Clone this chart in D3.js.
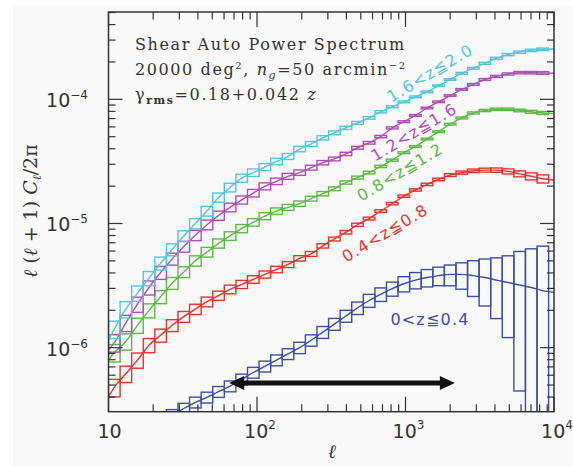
<!DOCTYPE html>
<html>
<head>
<meta charset="utf-8">
<script src="https://cdn.jsdelivr.net/npm/d3@7"></script>
<style>
  body { margin: 0; background: #fff; }
  svg { display: block; }
</style>
</head>
<body>
<svg id="chart" width="573" height="466"></svg>
<script>
// ---- data -------------------------------------------------------------
// multipole bin edges (38 log-spaced bins)
const binEdges = [10, 11.97, 14.32, 17.14, 20.51, 24.55, 29.37, 35.15, 42.07, 50.34,
  60.25, 72.10, 86.28, 103.3, 123.6, 147.9, 177.0, 211.8, 253.4, 303.3,
  363.0, 434.4, 519.8, 622.1, 744.5, 890.9, 1066, 1276, 1527, 1827,
  2187, 2617, 3131, 3747, 4485, 5367, 6422, 7686, 9197];

// band power l(l+1)C_l/2pi at each bin centre
const powerZ4 = [1.585e-7, 1.778e-7, 1.995e-7, 2.291e-7, 2.57e-7, 2.884e-7, 3.236e-7, 3.631e-7, 3.981e-7, 4.42e-7,
  4.9e-7, 5.56e-7, 6.31e-7, 7.08e-7, 7.94e-7, 8.91e-7, 1.0e-6, 1.148e-6, 1.334e-6, 1.549e-6,
  1.80e-6, 2.089e-6, 2.399e-6, 2.692e-6, 2.985e-6, 3.27e-6, 3.5e-6, 3.67e-6, 3.8e-6, 3.89e-6,
  3.89e-6, 3.8e-6, 3.67e-6, 3.5e-6, 3.35e-6, 3.2e-6, 3.05e-6, 2.88e-6];
const powerZ8 = [4.786e-7, 6.166e-7, 7.943e-7, 1.047e-6, 1.259e-6, 1.514e-6, 1.778e-6, 2.042e-6, 2.344e-6, 2.63e-6,
  2.951e-6, 3.236e-6, 3.548e-6, 3.89e-6, 4.266e-6, 4.677e-6, 5.248e-6, 5.69e-6, 6.607e-6, 7.5e-6,
  8.511e-6, 9.772e-6, 1.096e-5, 1.259e-5, 1.445e-5, 1.66e-5, 1.862e-5, 2.065e-5, 2.265e-5, 2.455e-5,
  2.57e-5, 2.66e-5, 2.692e-5, 2.692e-5, 2.63e-5, 2.512e-5, 2.399e-5, 2.291e-5];
const powerZ12 = [9.12e-7, 1.122e-6, 1.514e-6, 1.995e-6, 2.57e-6, 3.311e-6, 4.074e-6, 5.012e-6, 5.888e-6, 6.918e-6,
  7.943e-6, 9.12e-6, 1.023e-5, 1.148e-5, 1.259e-5, 1.349e-5, 1.445e-5, 1.585e-5, 1.738e-5, 1.905e-5,
  2.138e-5, 2.344e-5, 2.57e-5, 2.884e-5, 3.236e-5, 3.715e-5, 4.169e-5, 4.786e-5, 5.495e-5, 6.31e-5,
  7.079e-5, 7.762e-5, 8.128e-5, 8.318e-5, 8.318e-5, 8.128e-5, 7.943e-5, 7.762e-5];
const powerZ16 = [1.096e-6, 1.585e-6, 2.239e-6, 3.05e-6, 4.03e-6, 5.19e-6, 6.53e-6, 8.04e-6, 9.77e-6, 1.16e-5,
  1.349e-5, 1.549e-5, 1.758e-5, 1.995e-5, 2.188e-5, 2.399e-5, 2.57e-5, 2.818e-5, 3.09e-5, 3.311e-5,
  3.631e-5, 4.074e-5, 4.467e-5, 5.012e-5, 5.888e-5, 6.607e-5, 7.413e-5, 8.511e-5, 9.55e-5, 1.072e-4,
  1.202e-4, 1.318e-4, 1.445e-4, 1.53e-4, 1.60e-4, 1.64e-4, 1.64e-4, 1.63e-4];
const powerZ20 = [1.41e-6, 2.04e-6, 2.75e-6, 3.63e-6, 4.79e-6, 6.17e-6, 7.94e-6, 1.0e-5, 1.26e-5, 1.62e-5,
  1.95e-5, 2.32e-5, 2.57e-5, 2.85e-5, 3.16e-5, 3.47e-5, 3.98e-5, 4.37e-5, 4.90e-5, 5.37e-5,
  5.89e-5, 6.46e-5, 7.08e-5, 7.94e-5, 8.71e-5, 9.55e-5, 1.047e-4, 1.148e-4, 1.288e-4, 1.445e-4,
  1.622e-4, 1.778e-4, 1.95e-4, 2.138e-4, 2.291e-4, 2.399e-4, 2.48e-4, 2.53e-4];

// model values at the ends of the multipole range (l = 10 and l = 10^4)
const endsZ4 = [1.48e-7, 2.79e-6];
const endsZ8 = [4.03e-7, 2.24e-5];
const endsZ12 = [7.94e-7, 7.71e-5];
const endsZ16 = [9.55e-7, 1.62e-4];
const endsZ20 = [1.15e-6, 2.54e-4];

// fractional 1-sigma error of each band power
const errZ4 = [0.12, 0.11, 0.11, 0.1, 0.1, 0.1, 0.1, 0.1, 0.1, 0.1,
  0.1, 0.1, 0.1, 0.1, 0.1, 0.1, 0.105, 0.105, 0.11, 0.11,
  0.11, 0.115, 0.12, 0.125, 0.13, 0.14, 0.15, 0.16, 0.17, 0.19,
  0.24, 0.32, 0.41, 0.51, 0.64, 0.86, 1.05, 1.28];
const errZ8 = [0.16, 0.15, 0.14, 0.13, 0.12, 0.11, 0.10, 0.095, 0.09, 0.085,
  0.08, 0.075, 0.07, 0.065, 0.06, 0.055, 0.05, 0.045, 0.04, 0.035,
  0.032, 0.029, 0.026, 0.024, 0.022, 0.021, 0.021, 0.022, 0.024, 0.026,
  0.029, 0.032, 0.036, 0.04, 0.047, 0.055, 0.065, 0.075];
const errZ12 = [0.16, 0.15, 0.14, 0.13, 0.12, 0.11, 0.10, 0.095, 0.09, 0.085,
  0.08, 0.075, 0.07, 0.065, 0.06, 0.055, 0.05, 0.045, 0.04, 0.035,
  0.03, 0.027, 0.024, 0.021, 0.019, 0.017, 0.016, 0.016, 0.016, 0.017,
  0.018, 0.019, 0.02, 0.021, 0.022, 0.024, 0.026, 0.028];
const errZ16 = [0.16, 0.15, 0.14, 0.13, 0.12, 0.11, 0.10, 0.095, 0.09, 0.085,
  0.08, 0.075, 0.07, 0.065, 0.06, 0.055, 0.05, 0.045, 0.04, 0.035,
  0.03, 0.027, 0.024, 0.021, 0.019, 0.017, 0.016, 0.015, 0.015, 0.015,
  0.016, 0.017, 0.018, 0.019, 0.02, 0.021, 0.022, 0.024];
const errZ20 = [0.16, 0.15, 0.14, 0.13, 0.12, 0.11, 0.10, 0.095, 0.09, 0.085,
  0.08, 0.075, 0.07, 0.065, 0.06, 0.055, 0.05, 0.045, 0.04, 0.035,
  0.03, 0.027, 0.024, 0.021, 0.019, 0.017, 0.016, 0.015, 0.015, 0.015,
  0.016, 0.017, 0.018, 0.019, 0.02, 0.021, 0.022, 0.023];

const seriesNames = ["0<z≦0.4", "0.4<z≦0.8", "0.8<z≦1.2", "1.2<z≦1.6", "1.6<z≦2.0"];
const seriesColors = ["#3b4ea8", "#e8332a", "#5cb946", "#b24db4", "#52c6da"];

const xTickLabels = [["10", ""], ["10", "2"], ["10", "3"], ["10", "4"]];
const yTickLabels = [["10", "−4"], ["10", "−5"], ["10", "−6"]];
const xTickValues = [10, 100, 1000, 10000];
const yTickValues = [1e-4, 1e-5, 1e-6];

// l range marked by the double arrow, and its height on the plot
const arrowRange = [65, 2150];
const arrowLevel = 5.2e-7;

// ---- layout -----------------------------------------------------------
const W = 573, H = 466;
const P = { left: 108.5, right: 554, top: 12, bottom: 411.7 };

const svg = d3.select("#chart");
svg.append("rect").attr("width", W).attr("height", H).attr("fill", "#ffffff");
svg.append("rect").attr("x", 13).attr("y", 5).attr("width", W - 13).attr("height", H - 5)
  .attr("fill", "#f8f8f8");

const x = d3.scaleLog().domain([10, 1e4]).range([P.left, P.right]);
const y = d3.scaleLog().domain([3.05e-7, 5.05e-4]).range([P.bottom, P.top]);

svg.append("clipPath").attr("id", "plotClip")
  .append("rect").attr("x", P.left).attr("y", P.top)
  .attr("width", P.right - P.left).attr("height", P.bottom - P.top);

const series = [
  { power: powerZ4, ends: endsZ4, err: errZ4 },
  { power: powerZ8, ends: endsZ8, err: errZ8 },
  { power: powerZ12, ends: endsZ12, err: errZ12 },
  { power: powerZ16, ends: endsZ16, err: errZ16 },
  { power: powerZ20, ends: endsZ20, err: errZ20 },
].map((s, k) => ({ ...s, name: seriesNames[k], color: seriesColors[k] }));

const centres = binEdges.slice(0, -1).map((lo, i) => Math.sqrt(lo * binEdges[i + 1]));

const plotG = svg.append("g").attr("clip-path", "url(#plotClip)");
const line = d3.line().x(d => x(d[0])).y(d => y(d[1])).curve(d3.curveMonotoneX);

series.forEach(s => {
  const g = plotG.append("g");
  // error boxes: bin width by +-1 sigma
  g.selectAll("rect").data(s.power).join("rect")
    .attr("x", (v, i) => x(binEdges[i]))
    .attr("width", (v, i) => x(binEdges[i + 1]) - x(binEdges[i]))
    .attr("y", (v, i) => y(v * (1 + s.err[i])))
    .attr("height", (v, i) => {
      const lo = v * (1 - s.err[i]);
      const yb = lo > 0 ? y(lo) : P.bottom + 20;
      return yb - y(v * (1 + s.err[i]));
    })
    .attr("fill", "none")
    .attr("stroke", s.color)
    .attr("stroke-width", 1.4);
  // model curve
  const pts = [[10, s.ends[0]], ...centres.map((c, i) => [c, s.power[i]]), [1e4, s.ends[1]]];
  g.append("path").attr("d", line(pts))
    .attr("fill", "none").attr("stroke", s.color).attr("stroke-width", 1.4);
});

// double-headed arrow
(function () {
  const x0 = x(arrowRange[0]), x1 = x(arrowRange[1]), ya = y(arrowLevel);
  const head = 15, half = 7;
  svg.append("line").attr("x1", x0 + head - 2).attr("x2", x1 - head + 2)
    .attr("y1", ya).attr("y2", ya).attr("stroke", "#111").attr("stroke-width", 5);
  svg.append("path")
    .attr("d", `M${x0},${ya} L${x0 + head},${ya - half} L${x0 + head},${ya + half} Z`)
    .attr("fill", "#111");
  svg.append("path")
    .attr("d", `M${x1},${ya} L${x1 - head},${ya - half} L${x1 - head},${ya + half} Z`)
    .attr("fill", "#111");
})();

// frame and ticks
const axisColor = "#333";
svg.append("rect").attr("x", P.left).attr("y", P.top)
  .attr("width", P.right - P.left).attr("height", P.bottom - P.top)
  .attr("fill", "none").attr("stroke", axisColor).attr("stroke-width", 1.5);

const isMajor = v => Math.abs(Math.log10(v) - Math.round(Math.log10(v))) < 1e-6;
const tg = svg.append("g").attr("stroke", axisColor).attr("stroke-width", 1.2);
x.ticks().forEach(v => {
  const len = isMajor(v) ? 15 : 7.5;
  const xp = x(v);
  tg.append("line").attr("x1", xp).attr("x2", xp).attr("y1", P.bottom).attr("y2", P.bottom - len);
  tg.append("line").attr("x1", xp).attr("x2", xp).attr("y1", P.top).attr("y2", P.top + len);
});
y.ticks().forEach(v => {
  const len = isMajor(v) ? 14 : 7;
  const yp = y(v);
  tg.append("line").attr("x1", P.left).attr("x2", P.left + len).attr("y1", yp).attr("y2", yp);
  tg.append("line").attr("x1", P.right).attr("x2", P.right - len).attr("y1", yp).attr("y2", yp);
});

// tick labels
const tickFont = "'DejaVu Sans', sans-serif";
xTickValues.forEach((v, i) => {
  const t = svg.append("text").attr("x", x(v) + (i === 0 ? 1 : 3)).attr("y", 438)
    .attr("text-anchor", "middle").attr("font-family", tickFont).attr("font-size", 19)
    .attr("fill", "#333");
  t.append("tspan").text(xTickLabels[i][0]);
  if (xTickLabels[i][1]) t.append("tspan").attr("dy", -9).attr("font-size", 12).text(xTickLabels[i][1]);
});
yTickValues.forEach((v, i) => {
  const t = svg.append("text").attr("x", 88).attr("y", y(v) + 8)
    .attr("text-anchor", "end").attr("font-family", tickFont).attr("font-size", 19)
    .attr("fill", "#333");
  t.append("tspan").text(yTickLabels[i][0]);
  t.append("tspan").attr("dy", -8).attr("font-size", 12).text(yTickLabels[i][1]);
});

// axis titles
const serif = "'DejaVu Serif', serif";
svg.append("text").attr("x", 332).attr("y", 458).attr("text-anchor", "middle")
  .attr("font-family", serif).attr("font-style", "italic").attr("font-size", 19)
  .attr("fill", "#333").text("ℓ");

const yl = svg.append("text").attr("transform", "translate(37,211) rotate(-90)")
  .attr("text-anchor", "middle").attr("font-family", serif).attr("font-size", 19)
  .attr("fill", "#333");
yl.append("tspan").attr("font-style", "italic").text("ℓ");
yl.append("tspan").text(" (");
yl.append("tspan").attr("font-style", "italic").text("ℓ");
yl.append("tspan").text(" + 1) ");
yl.append("tspan").attr("font-style", "italic").text("C");
yl.append("tspan").attr("font-style", "italic").attr("font-size", 12).attr("dy", 4).text("ℓ");
yl.append("tspan").attr("dy", -4).text("/2π");

// survey description
const desc = svg.append("g").attr("font-family", serif).attr("font-size", 16)
  .attr("fill", "#333").attr("letter-spacing", 1.6);
desc.append("text").attr("x", 135).attr("y", 50).text("Shear Auto Power Spectrum");
const d2 = desc.append("text").attr("x", 135).attr("y", 75);
d2.append("tspan").text("20000 deg");
d2.append("tspan").attr("dy", -6).attr("font-size", 10).text("2");
d2.append("tspan").attr("dy", 6).text(", ");
d2.append("tspan").attr("font-style", "italic").text("n");
d2.append("tspan").attr("dy", 4).attr("font-size", 11).attr("font-style", "italic").text("g");
d2.append("tspan").attr("dy", -4).text("=50 arcmin");
d2.append("tspan").attr("dy", -6).attr("font-size", 10).text("−2");
const d3t = desc.append("text").attr("x", 135).attr("y", 100);
d3t.append("tspan").text("γ");
d3t.append("tspan").attr("dy", 4).attr("font-size", 11).attr("font-weight", "bold").text("rms");
d3t.append("tspan").attr("dy", -4).text("=0.18+0.042 ");
d3t.append("tspan").attr("font-style", "italic").text("z");

// redshift-bin labels
const labelPos = [
  { cx: 430, cy: 319, angle: 0 },
  { cx: 385, cy: 233, angle: -31 },
  { cx: 400, cy: 172, angle: -31 },
  { cx: 414, cy: 132, angle: -31 },
  { cx: 430, cy: 73, angle: -31 },
];
series.forEach((s, k) => {
  const p = labelPos[k];
  svg.append("text")
    .attr("transform", `translate(${p.cx},${p.cy}) rotate(${p.angle})`)
    .attr("text-anchor", "middle").attr("dy", "0.35em")
    .attr("font-family", tickFont).attr("font-size", 16).attr("letter-spacing", 1.2)
    .attr("fill", s.color).text(s.name);
});
</script>
</body>
</html>
